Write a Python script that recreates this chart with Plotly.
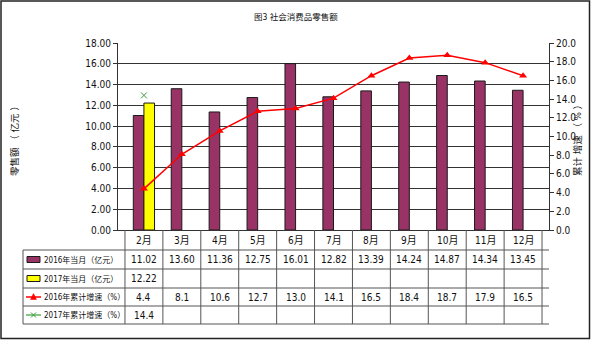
import plotly.graph_objects as go

# ---- data ----
months = ["2月", "3月", "4月", "5月", "6月", "7月", "8月", "9月", "10月", "11月", "12月"]
retail_2016 = [11.02, 13.60, 11.36, 12.75, 16.01, 12.82, 13.39, 14.24, 14.87, 14.34, 13.45]
retail_2017 = [12.22, None, None, None, None, None, None, None, None, None, None]
growth_2016 = [4.4, 8.1, 10.6, 12.7, 13.0, 14.1, 16.5, 18.4, 18.7, 17.9, 16.5]
growth_2017 = [14.4, None, None, None, None, None, None, None, None, None, None]
row_labels = ["2016年当月（亿元）", "2017年当月（亿元）", "2016年累计增速（%）", "2017年累计增速（%）"]

title_text = "图3 社会消费品零售额"
left_title = "零售额 （ 亿元 ）"
right_title = "累计 增速 （ % ）"

# ---- styling ----
W, H = 591, 340
L, R, T, B = 118, 549, 43, 230          # plot area in pixels
FONT = "Liberation Sans Narrow, Arial Narrow, DejaVu Sans Condensed, Noto Sans CJK SC, sans-serif"
MAROON = "#993366"
YELLOW = "#FFFF00"
RED = "#FF0000"
GREEN = "#3A9E3A"
GRID = "#333333"
TABLE = "#555555"


def px(xp):
    return (xp - L) / (R - L)


def py(yp):
    return (B - yp) / (B - T)


fig = go.Figure()

fig.add_trace(go.Bar(x=months, y=retail_2016, name=row_labels[0],
                     marker=dict(color=MAROON, line=dict(color="#1a1a1a", width=1))))
fig.add_trace(go.Bar(x=months, y=retail_2017, name=row_labels[1],
                     marker=dict(color=YELLOW, line=dict(color="#1a1a1a", width=1))))
fig.add_trace(go.Scatter(x=months, y=growth_2016, name=row_labels[2], yaxis="y2",
                         mode="lines+markers",
                         line=dict(color=RED, width=1.5),
                         marker=dict(symbol="triangle-up", size=7, color=RED)))
fig.add_trace(go.Scatter(x=months, y=growth_2017, name=row_labels[3], yaxis="y2",
                         mode="markers",
                         marker=dict(symbol="x-thin-open", size=6, color=GREEN,
                                     line=dict(color=GREEN, width=1))))

shapes = []
annotations = []


def label(x, y, text, size=10, xref="paper", xanchor="center", angle=0):
    annotations.append(dict(x=x, y=y, xref=xref, yref="paper", text=text,
                            showarrow=False, xanchor=xanchor, yanchor="middle",
                            textangle=angle, font=dict(size=size, color="#111")))


# table: horizontal row lines
row_edges = [250, 269, 288, 306, 324]
for yp in row_edges:
    shapes.append(dict(type="line", xref="paper", yref="paper",
                       x0=px(23), x1=1, y0=py(yp), y1=py(yp),
                       line=dict(color=TABLE, width=1)))
# table: vertical column lines
for i in range(len(months) + 1):
    shapes.append(dict(type="line", xref="x", yref="paper",
                       x0=i - 0.5, x1=i - 0.5, y0=py(B), y1=py(324),
                       line=dict(color=TABLE, width=1)))
shapes.append(dict(type="line", xref="paper", yref="paper",
                   x0=px(23), x1=px(23), y0=py(250), y1=py(324),
                   line=dict(color=TABLE, width=1)))

# month header
for i, m in enumerate(months):
    label(i, py(240), m, xref="x")

# table cell values
row_centers = [259.5, 278.5, 297, 315]
rows = [
    [f"{v:.2f}" if v is not None else "" for v in retail_2016],
    [f"{v:.2f}" if v is not None else "" for v in retail_2017],
    [f"{v:.1f}" if v is not None else "" for v in growth_2016],
    [f"{v:.1f}" if v is not None else "" for v in growth_2017],
]
for r, vals in enumerate(rows):
    for i, t in enumerate(vals):
        if t:
            label(i, py(row_centers[r]), t, xref="x")
    label(px(42), py(row_centers[r]), row_labels[r], size=8, xanchor="left")

# legend keys inside the table
for r, col in [(0, MAROON), (1, YELLOW)]:
    c = row_centers[r]
    shapes.append(dict(type="rect", xref="paper", yref="paper",
                       x0=px(27), x1=px(40), y0=py(c + 3), y1=py(c - 3),
                       fillcolor=col, line=dict(color="#1a1a1a", width=1)))
c = row_centers[2]
shapes.append(dict(type="line", xref="paper", yref="paper",
                   x0=px(26), x1=px(41), y0=py(c), y1=py(c),
                   line=dict(color=RED, width=1.5)))
shapes.append(dict(type="path", xref="paper", yref="paper",
                   path=f"M {px(30.5)},{py(c + 2.5)} L {px(36.5)},{py(c + 2.5)} L {px(33.5)},{py(c - 3.5)} Z",
                   fillcolor=RED, line=dict(color=RED, width=0.5)))
c = row_centers[3]
shapes.append(dict(type="line", xref="paper", yref="paper",
                   x0=px(26), x1=px(41), y0=py(c), y1=py(c),
                   line=dict(color=GREEN, width=1.2)))
for d in (1, -1):
    shapes.append(dict(type="line", xref="paper", yref="paper",
                       x0=px(31), x1=px(36), y0=py(c - 2.5 * d), y1=py(c + 2.5 * d),
                       line=dict(color=GREEN, width=1)))

# chart border
shapes.append(dict(type="rect", xref="paper", yref="paper",
                   x0=px(1), x1=px(589.5), y0=py(1), y1=py(338.5),
                   line=dict(color="#222", width=1.5)))

# titles
label(px(296), py(17), title_text, size=8.5)
label(px(14), py(139), left_title, size=9.5, angle=-90)
label(px(577), py(138), right_title, size=9.5, angle=-90)

fig.update_layout(
    width=W, height=H, autosize=False,
    margin=dict(l=L, r=W - R, t=T, b=H - B),
    paper_bgcolor="white", plot_bgcolor="white",
    font=dict(family=FONT, size=10, color="#111"),
    showlegend=False,
    barmode="group", bargap=0.44, bargroupgap=0,
    xaxis=dict(type="category", showticklabels=False, ticks="",
               showline=True, linecolor="#333", linewidth=1, showgrid=False,
               zeroline=False),
    yaxis=dict(range=[0, 18], dtick=2, tickformat=".2f", showgrid=True,
               gridcolor=GRID, gridwidth=1.2, showline=True, linecolor="#333",
               linewidth=1, ticks="outside", ticklen=4, tickcolor="#333",
               zeroline=False, tickfont=dict(size=10)),
    yaxis2=dict(range=[0, 20], dtick=2, tickformat=".1f", overlaying="y",
                side="right", showgrid=False, showline=True, linecolor="#333",
                linewidth=1, ticks="outside", ticklen=4, tickcolor="#333",
                zeroline=False, tickfont=dict(size=10)),
    shapes=shapes,
    annotations=annotations,
)

fig.write_html("out.html")
